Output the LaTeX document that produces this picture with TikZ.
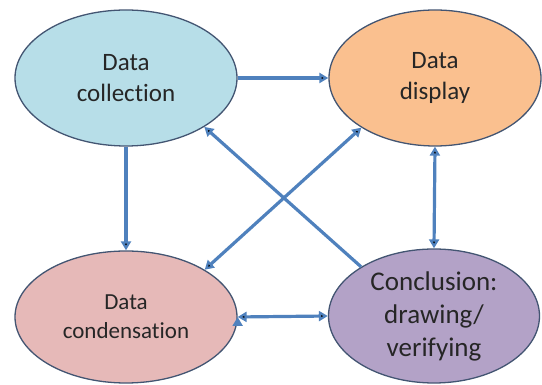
\documentclass[tikz,border=0pt]{standalone}
\usepackage{fontspec}
\setmainfont{Carlito}[Ligatures=NoCommon]
\usepackage{xcolor}
\usetikzlibrary{shapes.geometric,arrows.meta}
\definecolor{collblue}{HTML}{B7DEE8}
\definecolor{dispora}{HTML}{FAC08F}
\definecolor{condpink}{HTML}{E6B9B8}
\definecolor{conclpurple}{HTML}{B3A2C7}
\definecolor{rimgray}{HTML}{435572}
\definecolor{flowblue}{HTML}{4F81BD}
\tikzset{phase/.style={ellipse,draw=rimgray,line width=1.3pt,inner sep=0pt,align=center,text=black!85}}

\begin{document}
\begin{tikzpicture}[x=1pt,y=1pt]
	\useasboundingbox (0,0) rectangle (542,385);
	\node[phase,fill=collblue,minimum width=222pt,minimum height=136pt,font=\fontsize{25}{31}\selectfont] (Col) at (126,307) {Data\\collection};
	\node[phase,fill=dispora,minimum width=212pt,minimum height=136pt,font=\fontsize{25}{31}\selectfont] (Dis) at (435,307) {Data\\display};
	\node[phase,fill=condpink,minimum width=222pt,minimum height=132pt,font=\fontsize{23}{29}\selectfont] (Cnd) at (126,68) {Data\\condensation};
	\node[phase,fill=conclpurple,minimum width=211pt,minimum height=134pt,font=\fontsize{27}{33}\selectfont] (Ccl) at (434,69) {Conclusion:\\drawing/\\verifying};
	%
	\path[->,>={Triangle[length=9pt,width=10pt]},line width=3.2pt,draw=flowblue]
	(Col.east) edge (Dis.west)
	(Col.south) edge (Cnd.north)
	(Ccl.146) edge (Col.-32)
	(Dis.-146) edge[<->] (Cnd.31)
	(Dis.south) edge[<->] (Ccl.north)
	(Cnd.east) edge[<->] (Ccl.west);
\end{tikzpicture}
\end{document}
